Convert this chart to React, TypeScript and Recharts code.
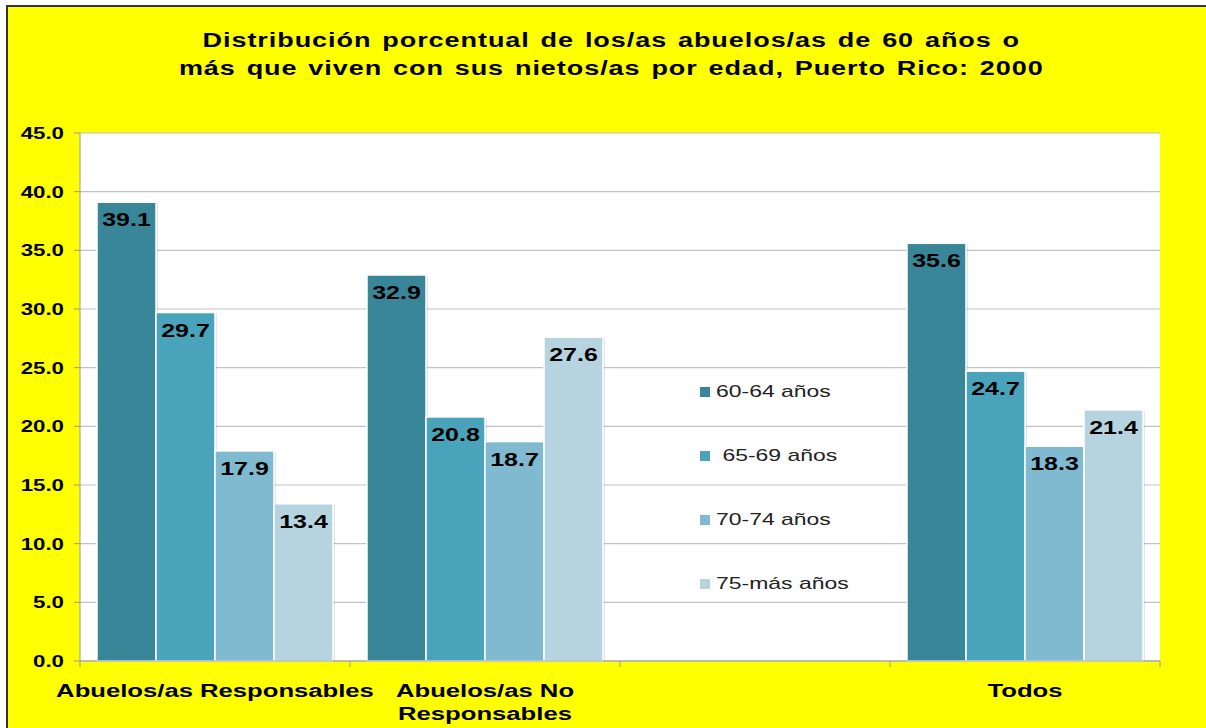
import React from "react";
import {
  Bar,
  BarChart,
  CartesianGrid,
  LabelList,
  Legend,
  XAxis,
  YAxis,
} from "recharts";

const categories = [
  "Abuelos/as Responsables",
  "Abuelos/as No\nResponsables",
  "",
  "Todos",
];
const edad6064 = [39.1, 32.9, null, 35.6];
const edad6569 = [29.7, 20.8, null, 24.7];
const edad7074 = [17.9, 18.7, null, 18.3];
const edad75mas = [13.4, 27.6, null, 21.4];
const yTicks = [0, 5, 10, 15, 20, 25, 30, 35, 40, 45];

const series = [
  { key: "e6064", name: "60-64 años", color: "#3a8699" },
  { key: "e6569", name: " 65-69 años", color: "#49a3ba" },
  { key: "e7074", name: "70-74 años", color: "#7fbad0" },
  { key: "e75", name: "75-más años", color: "#b6d4e0" },
];

const data = categories.map((category, i) => ({
  category,
  e6064: edad6064[i],
  e6569: edad6569[i],
  e7074: edad7074[i],
  e75: edad75mas[i],
}));

const FONT = "'Liberation Sans', Arial, sans-serif";
const STRETCH = 1.35;
const BAND = 270;

// the original picture is stretched wide, so every text gets a horizontal scale
function WideText({ x, y, anchor = "middle", size, bold = true, children }: any) {
  return (
    <text
      transform={`translate(${x} ${y}) scale(${STRETCH} 1)`}
      textAnchor={anchor}
      fontFamily={FONT}
      fontSize={size}
      fontWeight={bold ? "bold" : "normal"}
      fill="#000"
    >
      {children}
    </text>
  );
}

function YTick({ x, y, payload }: any) {
  return (
    <WideText x={x} y={y + 6} anchor="end" size={16.5}>
      {payload.value.toFixed(1)}
    </WideText>
  );
}

function XTick({ x, y, payload, index }: any) {
  const lines = String(payload.value).split("\n");
  return (
    <g>
      <line x1={x - BAND / 2} x2={x - BAND / 2} y1={y} y2={y + 6} stroke="#9a9a9a" />
      {index === categories.length - 1 && (
        <line x1={x + BAND / 2} x2={x + BAND / 2} y1={y} y2={y + 6} stroke="#9a9a9a" />
      )}
      {lines.map((l, i) => (
        <WideText key={i} x={x} y={y + 36 + i * 23} size={19}>
          {l}
        </WideText>
      ))}
    </g>
  );
}

function ShadowBar({ x, y, width, height, fill }: any) {
  if (!height) return null;
  return (
    <g>
      <rect x={x + 2} y={y + 1} width={width} height={height} fill="rgba(0,0,0,0.10)" />
      <rect x={x} y={y} width={width} height={height} fill={fill} stroke="#fff" strokeWidth={1.5} />
    </g>
  );
}

function ValueLabel({ x, y, width, value }: any) {
  if (value == null) return null;
  return (
    <WideText x={x + width / 2} y={y + 24} size={18.5}>
      {Number(value).toFixed(1)}
    </WideText>
  );
}

function LegendBox() {
  return (
    <div style={{ fontFamily: FONT, fontSize: 17, color: "#222" }}>
      {series.map((s) => (
        <div key={s.key} style={{ height: 64, display: "flex", alignItems: "flex-start" }}>
          <span
            style={{
              display: "inline-block",
              width: 10,
              height: 10,
              background: s.color,
              marginTop: 7,
              marginRight: 6,
            }}
          />
          <span
            style={{
              display: "inline-block",
              lineHeight: "24px",
              whiteSpace: "pre",
              transform: `scaleX(${STRETCH})`,
              transformOrigin: "left",
            }}
          >
            {s.name}
          </span>
        </div>
      ))}
    </div>
  );
}

export default function App() {
  return (
    <div
      style={{
        position: "absolute",
        left: 0,
        top: 0,
        width: 1206,
        height: 728,
        background: "#fff",
        overflow: "hidden",
      }}
    >
      <div
        style={{
          position: "absolute",
          left: 6,
          top: 5,
          right: 0,
          bottom: 0,
          background: "#ffff00",
          borderTop: "2px solid #333",
          borderLeft: "2px solid #333",
        }}
      />
      <div
        style={{
          position: "absolute",
          left: 0,
          top: 26,
          width: 1222,
          textAlign: "center",
          fontFamily: FONT,
          fontSize: 20,
          fontWeight: "bold",
          lineHeight: "28px",
          letterSpacing: 0.7,
          wordSpacing: 1.8,
          color: "#000",
        }}
      >
        <span style={{ display: "inline-block", transform: `scaleX(${STRETCH})` }}>
          Distribución porcentual de los/as abuelos/as de 60 años o
          <br />
          más que viven con sus nietos/as por edad, Puerto Rico: 2000
        </span>
      </div>
      <BarChart
        width={1206}
        height={728}
        data={data}
        margin={{ top: 133, right: 46, left: 8, bottom: 7 }}
        barCategoryGap={17}
        barGap={0}
        style={{ position: "absolute", left: 0, top: 0 }}
      >
        <CartesianGrid vertical={false} stroke="#c2c2c2" fill="#fff" strokeWidth={1.2} />
        <XAxis
          dataKey="category"
          height={60}
          tickLine={false}
          tickSize={0}
          tickMargin={0}
          interval={0}
          stroke="#9a9a9a"
          tick={<XTick />}
        />
        <YAxis
          width={72}
          domain={[0, 45]}
          ticks={yTicks}
          interval={0}
          tickSize={6}
          tickMargin={10}
          stroke="#9a9a9a"
          tick={<YTick />}
        />
        <Legend
          layout="vertical"
          align="center"
          verticalAlign="middle"
          content={<LegendBox />}
          wrapperStyle={{ position: "absolute", left: 700, top: 380, width: 200 }}
        />
        {series.map((s) => (
          <Bar
            key={s.key}
            dataKey={s.key}
            name={s.name}
            fill={s.color}
            isAnimationActive={false}
            shape={<ShadowBar />}
          >
            <LabelList dataKey={s.key} content={<ValueLabel />} />
          </Bar>
        ))}
      </BarChart>
    </div>
  );
}
